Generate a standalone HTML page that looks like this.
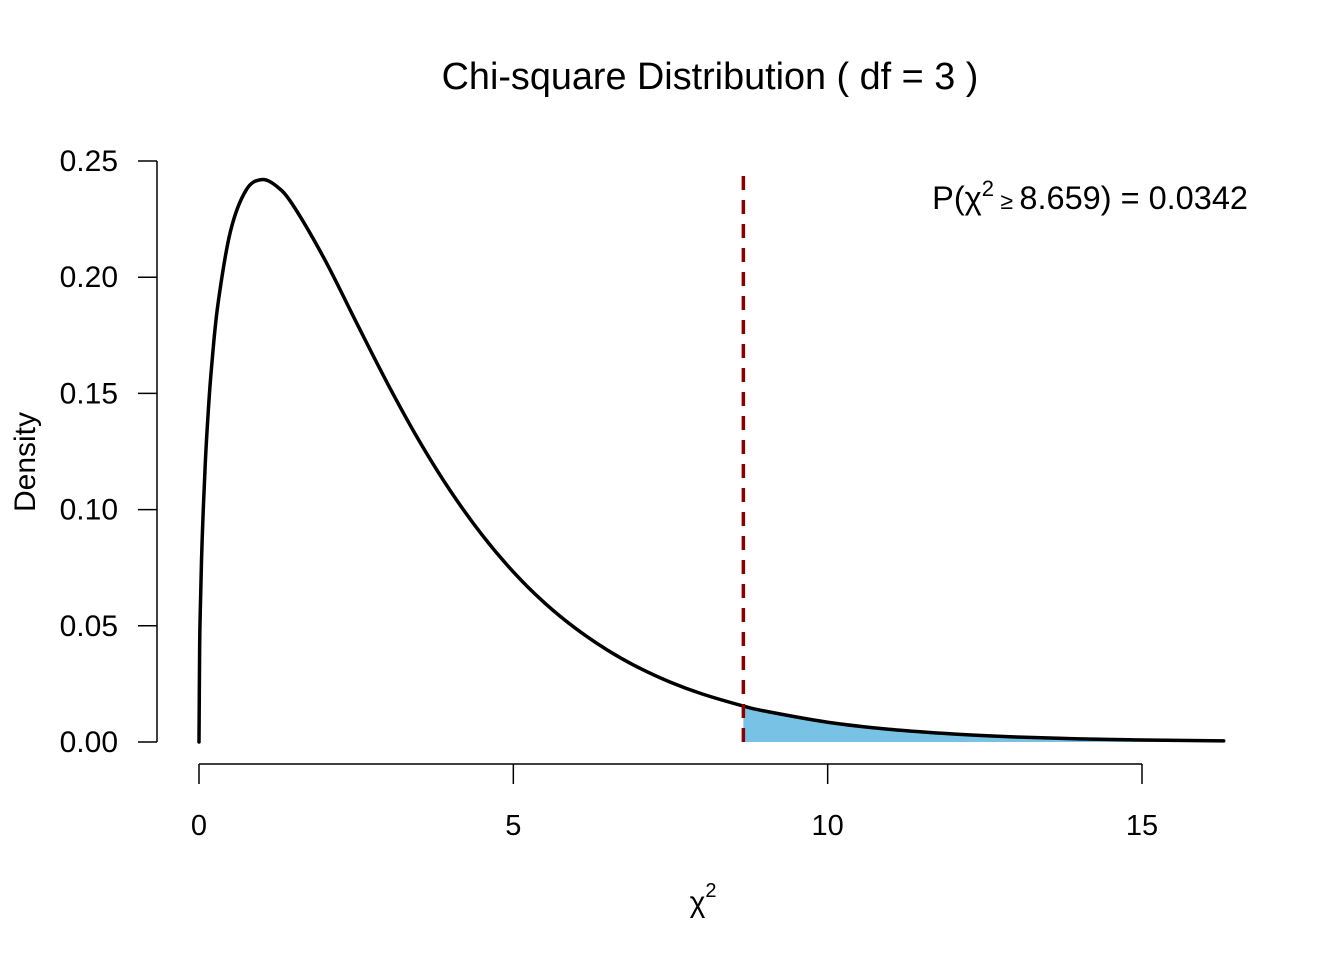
<!DOCTYPE html>
<html><head><meta charset="utf-8"><style>
body{margin:0;background:#fff}
svg text{font-family:"Liberation Sans",Arial,sans-serif;fill:#000}
</style></head><body>
<svg id="chart" width="1344" height="960" viewBox="0 0 1344 960" xmlns="http://www.w3.org/2000/svg">
<rect width="1344" height="960" fill="#fff"/>
<text x="710" y="89" font-size="37.8" text-anchor="middle">Chi-square Distribution ( df = 3 )</text>
<g id="xaxis"></g>
<g id="yaxis"></g>
<g id="plot"></g>
<text x="703" y="912" font-size="30" text-anchor="middle">χ<tspan dy="-15" font-size="20">2</tspan></text>
<text transform="translate(35,462) rotate(-90)" font-size="30" text-anchor="middle">Density</text>
<text x="1248" y="209" font-size="32.5" text-anchor="end">P(χ<tspan dy="-13" font-size="22">2</tspan><tspan dy="13" font-size="23"> ≥ </tspan>8.659) = 0.0342</text>
</svg>
<script>
const xVals=[0,0.01,0.02,0.05,0.1,0.15,0.2,0.3,0.5,0.75,1,1.25,1.5,2,2.5,3,3.5,4,4.5,5,5.5,6,6.5,7,7.5,8,8.659,9,10,11,12,13,14,15,16.3];
const densities=[0,0.0397,0.0559,0.087,0.12,0.1434,0.1614,0.1881,0.2197,0.2375,0.242,0.2388,0.2308,0.2076,0.1807,0.1542,0.1297,0.108,0.0892,0.0732,0.0598,0.0487,0.0395,0.0319,0.0257,0.0207,0.01546,0.0133,0.0085,0.00541,0.00343,0.00216,0.00136,0.000855,0.000465];
const xTicks=[0,5,10,15];
const yTicks=[0,0.05,0.10,0.15,0.20,0.25];
const yTickLabels=["0.00","0.05","0.10","0.15","0.20","0.25"];
const critical=8.659;
const NS="http://www.w3.org/2000/svg";
const sx=v=>199+v*(1142-199)/15;
const sy=v=>742-v*(742-161)/0.25;
function mk(tag,attrs,parent){const e=document.createElementNS(NS,tag);for(const k in attrs)e.setAttribute(k,attrs[k]);parent.appendChild(e);return e;}
function smooth(p){let d=`M${p[0][0]},${p[0][1]}`;for(let i=0;i<p.length-1;i++){const a=p[i-1]||p[i],b=p[i],c=p[i+1],e=p[i+2]||c;
const c1=[b[0]+(c[0]-a[0])/6,b[1]+(c[1]-a[1])/6],c2=[c[0]-(e[0]-b[0])/6,c[1]-(e[1]-b[1])/6];
d+=` C${c1[0]},${c1[1]} ${c2[0]},${c2[1]} ${c[0]},${c[1]}`;}return d;}
const xa=document.getElementById('xaxis'),ya=document.getElementById('yaxis'),pl=document.getElementById('plot');
let l=mk('line',{x1:sx(xTicks[0]),x2:sx(xTicks[xTicks.length-1]),y1:764,y2:764,stroke:'#000','stroke-width':1.5},xa);

xTicks.forEach(t=>{const tk=mk('line',{x1:sx(t),x2:sx(t),y1:764,y2:784,stroke:'#000','stroke-width':1.5},xa);

const tx=mk('text',{x:sx(t),y:835,'font-size':29,'text-anchor':'middle'},xa);tx.textContent=t;
});
l=mk('line',{x1:157,x2:157,y1:sy(yTicks[0]),y2:sy(yTicks[yTicks.length-1]),stroke:'#000','stroke-width':1.5},ya);

yTicks.forEach((t,i)=>{const tk=mk('line',{x1:138,x2:157,y1:sy(t),y2:sy(t),stroke:'#000','stroke-width':1.5},ya);

const tx=mk('text',{x:118,y:sy(t)+10,'font-size':30,'text-anchor':'end'},ya);tx.textContent=yTickLabels[i];
});
const tail=[[sx(critical),sy(0)]];
xVals.forEach((x,i)=>{if(x>=critical)tail.push([sx(x),sy(densities[i])]);});
let d=`M${sx(critical)},${sy(0)} `+smooth(tail.slice(1)).replace('M','L')+` L${sx(xVals[xVals.length-1])},${sy(0)} Z`;
const area=mk('path',{d:d,fill:'#77c2e5',stroke:'none'},pl);

const pts=xVals.map((x,i)=>[sx(x),sy(densities[i])]);
const curve=mk('path',{d:smooth(pts),fill:'none',stroke:'#000','stroke-width':3.5,'stroke-linejoin':'round','stroke-linecap':'round'},pl);

const cl=mk('line',{x1:sx(critical),x2:sx(critical),y1:742,y2:170,stroke:'#8b0000','stroke-width':3.5,'stroke-dasharray':'14,10'},pl);

</script>
</body></html>
